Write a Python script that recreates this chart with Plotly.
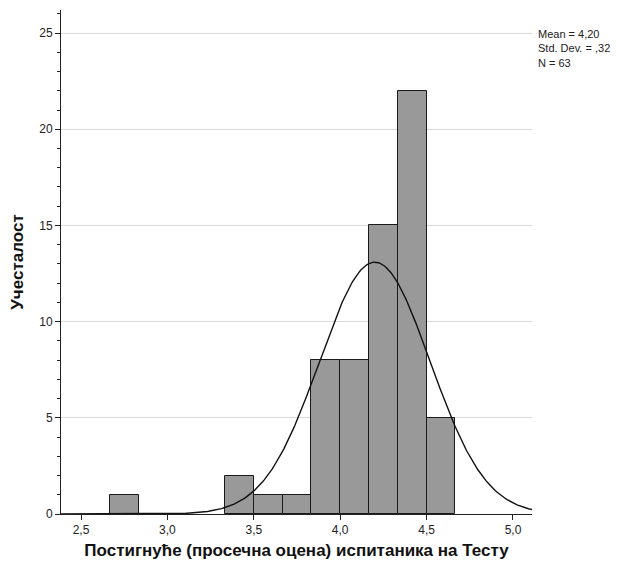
import numpy as np
import plotly.graph_objects as go

# Histogram data (bin width 1/6)
bin_starts = [2.6667, 3.3333, 3.5, 3.6667, 3.8333, 4.0, 4.1667, 4.3333, 4.5]
counts = [1, 2, 1, 1, 8, 8, 15, 22, 5]
bin_width = 1/6

mean_val = 4.20
std_val = 0.32
n_val = 63
stat_lines = ["Mean = 4,20", "Std. Dev. = ,32", "N = 63"]

x_ticks = [2.5, 3.0, 3.5, 4.0, 4.5, 5.0]
y_ticks = [0, 5, 10, 15, 20, 25]

x_range = [2.384, 5.11]
y_range = [0, 26.2]

centers = [s + bin_width / 2 for s in bin_starts]

xs = np.linspace(x_range[0], x_range[1], 400)
ys = n_val * bin_width / (std_val * np.sqrt(2 * np.pi)) * np.exp(-0.5 * ((xs - mean_val) / std_val) ** 2)

fig = go.Figure()
fig.add_trace(go.Bar(
    x=centers, y=counts, width=bin_width,
    marker=dict(color="#999999", line=dict(color="#1a1a1a", width=1)),
    hoverinfo="skip",
))
fig.add_trace(go.Scatter(
    x=xs, y=ys, mode="lines",
    line=dict(color="#111111", width=1.4),
    hoverinfo="skip",
))

# page body has an 8px margin, so the figure is offset by 8px
fig.update_layout(
    width=614, height=559,
    margin=dict(l=53, r=90, t=2, b=53),
    paper_bgcolor="white", plot_bgcolor="white",
    showlegend=False,
    separators=", ",
    bargap=0,
    font=dict(family="Liberation Sans, Arial, sans-serif", color="#222222", size=12),
    xaxis=dict(
        range=x_range, tickvals=x_ticks, tickformat=".1f",
        showgrid=False, zeroline=False, automargin=False,
        showline=True, linecolor="#222222", linewidth=1,
        ticks="outside", ticklen=5, tickcolor="#222222",
        title=dict(text="<b>Постигнуће (просечна оцена) испитаника на Тесту</b>",
                   font=dict(size=17, color="#111111"), standoff=7),
    ),
    yaxis=dict(
        range=y_range, tickvals=y_ticks,
        showgrid=True, gridcolor="#d9d9d9", gridwidth=1,
        zeroline=False, automargin=False,
        showline=True, linecolor="#222222", linewidth=1,
        ticks="outside", ticklen=5, tickcolor="#222222",
        minor=dict(dtick=1, ticks="outside", ticklen=3, tickcolor="#222222", showgrid=False),
        title=dict(text="<b>Учесталост</b>", font=dict(size=17, color="#111111"), standoff=15),
    ),
    annotations=[dict(
        x=1.0106, y=0.9246, xref="paper", yref="paper",
        xanchor="left", yanchor="middle", align="left", showarrow=False,
        text="<br>".join(stat_lines),
        font=dict(size=11, color="#222222"), borderpad=0,
    )],
)

fig.write_html("out.html")
